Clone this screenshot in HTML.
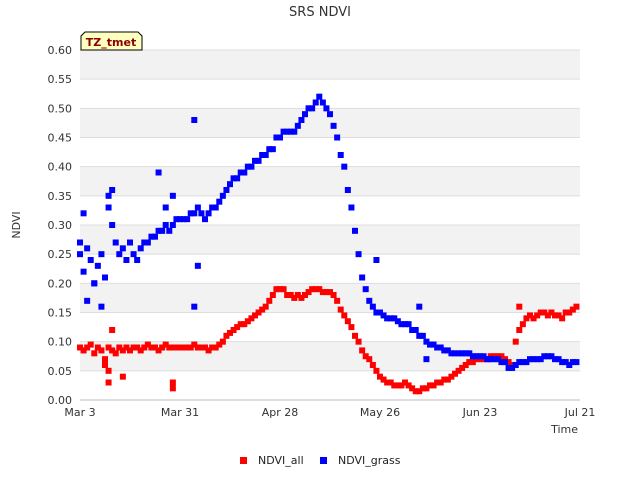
<!DOCTYPE html>
<html><head><meta charset="utf-8"><style>
body{margin:0;background:#fff;font-family:"Liberation Sans","DejaVu Sans",sans-serif;}
svg text{font-family:"DejaVu Sans","Liberation Sans",sans-serif;}
</style></head><body>
<svg id="c" width="640" height="480" xmlns="http://www.w3.org/2000/svg">
<text x="320" y="16" text-anchor="middle" font-size="13" fill="#333">SRS NDVI</text>
<g id="bands"></g><g id="yt"></g><g id="xt"></g><g id="pts"></g>
<text x="20" y="225" font-size="11" fill="#333" text-anchor="middle" transform="rotate(-90 20 225)">NDVI</text>
<text x="578" y="433" font-size="11" fill="#333" text-anchor="end">Time</text>
<g>
<path d="M81,50 L81,36 L85,32 L138,32 L142,36 L142,50 Z" fill="#ffffc0" stroke="#000" stroke-width="1"/>
<text x="111" y="46" font-size="11" font-weight="bold" fill="#8b0000" text-anchor="middle">TZ_tmet</text></g>
<g><rect x="240" y="457" width="7" height="7" fill="#f00"/><text x="258" y="464" font-size="11" fill="#222">NDVI_all</text></g>
<g><rect x="320" y="457" width="7" height="7" fill="#00f"/><text x="338" y="464" font-size="11" fill="#222">NDVI_grass</text></g>
</svg>
<script>
const xTickLabels=["Mar 3","Mar 31","Apr 28","May 26","Jun 23","Jul 21"];
const xTickDays=[0,28,56,84,112,140];
const yTicks=[0,0.05,0.1,0.15,0.2,0.25,0.3,0.35,0.4,0.45,0.5,0.55,0.6];
const ndviGrass=[.25,.22,.26,.24,.20,.23,.25,.21,.33,.30,.27,.25,.26,.24,.27,.25,.24,.26,.27,.27,.28,.28,.29,.29,.30,.29,.30,.31,.31,.31,.31,.32,.32,.33,.32,.31,.32,.33,.33,.34,.35,.36,.37,.38,.38,.39,.39,.40,.40,.41,.41,.42,.42,.43,.43,.45,.45,.46,.46,.46,.46,.47,.48,.49,.50,.50,.51,.52,.51,.50,.49,.47,.45,.42,.40,.36,.33,.29,.25,.21,.19,.17,.16,.15,.15,.145,.14,.14,.14,.135,.13,.13,.13,.12,.12,.11,.11,.10,.095,.095,.09,.09,.085,.085,.08,.08,.08,.08,.08,.08,.075,.075,.075,.075,.07,.07,.07,.07,.065,.065,.055,.055,.06,.065,.065,.065,.07,.07,.07,.07,.075,.075,.075,.07,.07,.065,.065,.06,.065,.065];
const ndviAll=[.09,.085,.09,.095,.08,.09,.085,.06,.09,.085,.08,.09,.085,.09,.085,.09,.09,.085,.09,.095,.09,.09,.085,.09,.095,.09,.09,.09,.09,.09,.09,.09,.095,.09,.09,.09,.085,.09,.09,.095,.10,.11,.115,.12,.125,.13,.13,.135,.14,.145,.15,.155,.16,.17,.18,.19,.19,.19,.18,.18,.175,.18,.175,.18,.185,.19,.19,.19,.185,.185,.185,.18,.17,.155,.145,.135,.125,.11,.10,.085,.075,.07,.06,.05,.04,.035,.03,.03,.025,.025,.025,.03,.025,.02,.015,.015,.02,.02,.025,.025,.03,.03,.035,.035,.04,.045,.05,.055,.06,.065,.065,.07,.07,.07,.07,.075,.075,.075,.075,.07,.065,.06,.10,.12,.13,.14,.145,.14,.145,.15,.15,.145,.15,.145,.145,.14,.15,.15,.155,.16];
const grassExtraDays=[1,8,9,2,6,22,32,32,33,24,26,97,95,83,0,4];
const grassExtraVals=[.32,.35,.36,.17,.16,.39,.48,.16,.23,.33,.35,.07,.16,.24,.27,.20];
const allExtraDays=[8,8,9,26,26,123,7,12];
const allExtraVals=[.03,.05,.12,.02,.03,.16,.07,.04];
const X0=80,X1=580,Y0=400,Y1=50;
const xs=d=>X0+d*(X1-X0)/140;
const ys=v=>Y0-v*(Y0-Y1)/0.6;
const NS="http://www.w3.org/2000/svg";
function mk(t,a,p){const e=document.createElementNS(NS,t);for(const k in a)e.setAttribute(k,a[k]);p.appendChild(e);return e;}
const bands=document.getElementById('bands');
for(let i=0;i<12;i++){const r=mk('rect',{x:X0,y:ys(yTicks[i+1]),width:X1-X0,height:ys(yTicks[i])-ys(yTicks[i+1]),fill:(i%2==1)?'#f2f2f2':'#fff'},bands);

}
const yt=document.getElementById('yt');
yTicks.forEach(v=>{const l=mk('line',{x1:X0,x2:X1,y1:ys(v),y2:ys(v),stroke:'#ddd','stroke-width':1},yt);


const t=mk('text',{x:X0-8,y:ys(v)+4,'text-anchor':'end','font-size':11,fill:'#333'},yt);t.textContent=v.toFixed(2);

});
const xt=document.getElementById('xt');
const ax=mk('line',{x1:X0,x2:X1,y1:Y0,y2:Y0,stroke:'#bbb'},xt);


xTickDays.forEach((d,i)=>{const t=mk('text',{x:xs(d),y:Y0+16,'text-anchor':'middle','font-size':11,fill:'#333'},xt);t.textContent=xTickLabels[i];

});
const pts=document.getElementById('pts');
function pt(d,v,c,n){const r=mk('rect',{x:xs(d)-3,y:ys(v)-3,width:6,height:6,fill:c},pts);

}
ndviAll.forEach((v,d)=>pt(d,v,'#f00','point-ndvi-all'));
allExtraDays.forEach((d,i)=>pt(d,allExtraVals[i],'#f00','point-ndvi-all'));
ndviGrass.forEach((v,d)=>pt(d,v,'#00f','point-ndvi-grass'));
grassExtraDays.forEach((d,i)=>pt(d,grassExtraVals[i],'#00f','point-ndvi-grass'));
</script>
</body></html>
